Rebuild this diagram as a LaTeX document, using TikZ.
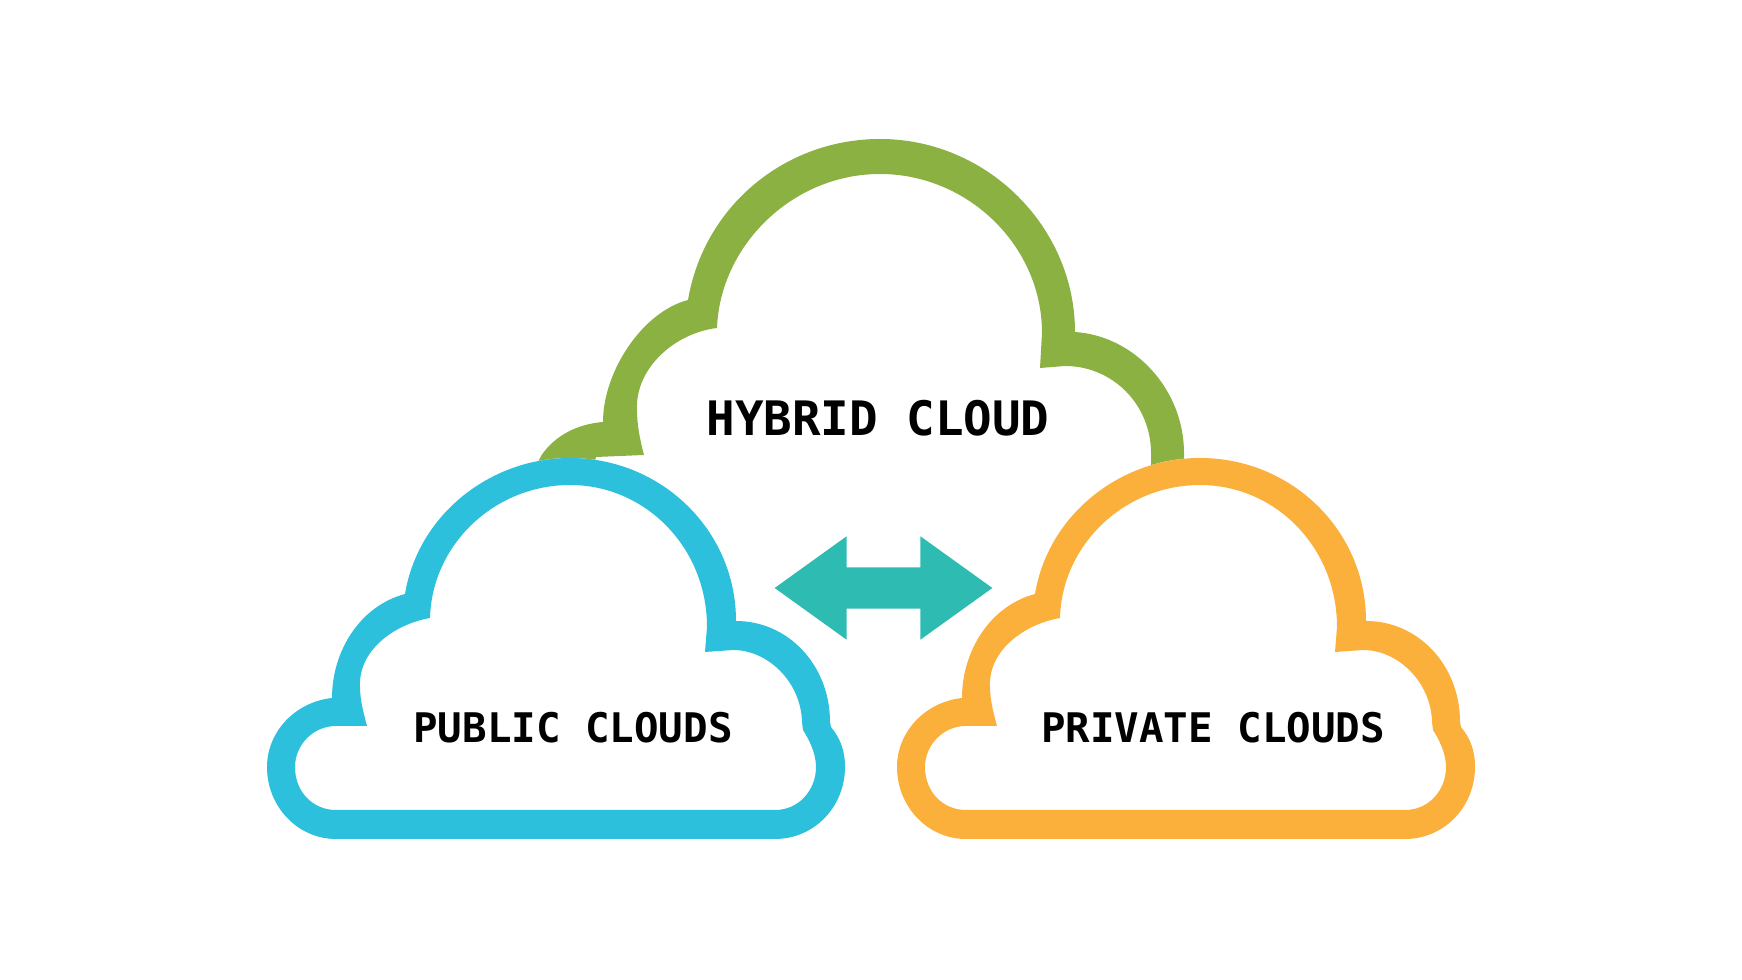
\documentclass[tikz,border=0pt]{standalone}
\usepackage{fontspec}
\setmonofont{DejaVu Sans Mono}
\usetikzlibrary{shapes.arrows}
\definecolor{cloudgreen}{HTML}{8AB141}
\definecolor{cloudblue}{HTML}{2DC0DD}
\definecolor{cloudorange}{HTML}{FBB03B}
\definecolor{linkteal}{HTML}{2DBBB2}
\newcommand{\cloudouter}{(336,839) -- (775,839) .. controls (814,839) and (845,807) .. (845,767) .. controls (845,750) and (840,738) .. (831,727) -- (830,722) .. controls (830,665) and (788,621) .. (736,621) .. controls (736,530) and (661,458) .. (570,458) .. controls (490,458) and (418,515) .. (405,594) .. controls (360,606) and (332,651) .. (332,698) .. controls (295,702) and (267,732) .. (267,767) .. controls (267,807) and (298,839) .. (336,839) -- cycle}
\newcommand{\cloudinner}{(336,810) -- (775,810) .. controls (799,810) and (816,790) .. (816,767) .. controls (816,752) and (808,738) .. (803,730) -- (802,722) .. controls (801,682) and (768,650) .. (733,650) -- (705,652) -- (707,627) .. controls (707,547) and (645,485) .. (570,485) .. controls (495,485) and (432,544) .. (430,618) .. controls (395,624) and (358,650) .. (360,687) .. controls (360,700) and (364,715) .. (367,726) -- (336,726) .. controls (313,726) and (295,745) .. (295,767) .. controls (295,792) and (313,810) .. (336,810) -- cycle}
\tikzset{
  biglabel/.style={font=\ttfamily\bfseries\fontsize{13.5pt}{15pt}\selectfont,text=black,inner sep=0pt},
  smalllabel/.style={font=\ttfamily\bfseries\fontsize{11.6pt}{14pt}\selectfont,text=black,inner sep=0pt},
  linkarrow/.style={double arrow,fill=linkteal,draw=none,inner xsep=0pt,inner ysep=5.69pt,outer sep=0pt,minimum height=61.9pt,minimum width=29pt,double arrow head extend=8.8pt,double arrow tip angle=71.4}
}
\begin{document}
\begin{tikzpicture}[x=0.01cm,y=-0.01cm]
\useasboundingbox (0,0) rectangle (1742,980);
\fill[cloudgreen] (530,478) -- (541,456) .. controls (555,435) and (578,424) .. (603,422) .. controls (603,372) and (642,312) .. (688,300) .. controls (704,206) and (785,139) .. (880,139) .. controls (987,139) and (1075,227) .. (1075,332) .. controls (1135,336) and (1184,390) .. (1184,453) -- (1184,480) -- (1151,480) -- (1151,453) .. controls (1151,405) and (1113,366) .. (1065,366) -- (1040,368) -- (1042,333) .. controls (1042,246) and (968,174) .. (880,174) .. controls (792,174) and (720,246) .. (717,328) .. controls (675,333) and (635,368) .. (637,410) .. controls (637,425) and (640,440) .. (644,455) -- (596,457) -- (590,480) -- cycle;
\foreach \cloudshift/\cloudcolor in {0/cloudblue,630/cloudorange}{
  \begin{scope}[shift={(\cloudshift,0)}]
    \fill[white] \cloudouter;
    \fill[\cloudcolor,even odd rule] \cloudouter \cloudinner;
  \end{scope}
}
\node[linkarrow] (link) at (883.5,588) {};
\node[biglabel] (hybridlabel) at (878,418) {HYBRID CLOUD};
\node[smalllabel] (publiclabel) at (573,728) {PUBLIC CLOUDS};
\node[smalllabel] (privatelabel) at (1213,728) {PRIVATE CLOUDS};
\end{tikzpicture}
\end{document}
